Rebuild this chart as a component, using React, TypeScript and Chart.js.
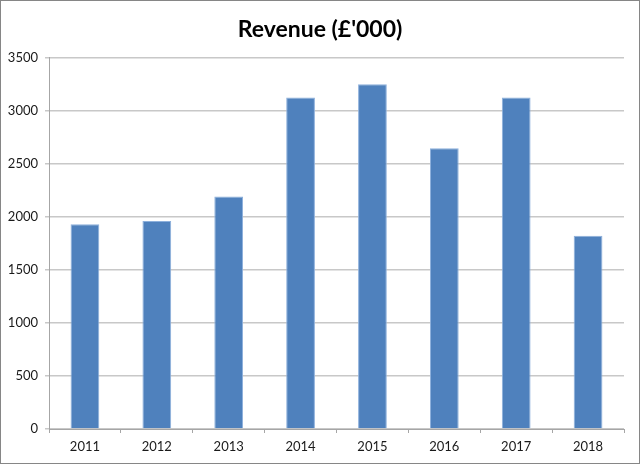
import React, { useEffect, useRef } from "react";
import { Chart, registerables } from "chart.js";

Chart.register(...registerables);

const categories = ["2011", "2012", "2013", "2014", "2015", "2016", "2017", "2018"];
const revenue = [1930, 1960, 2190, 3125, 3250, 2645, 3125, 1820];
const titleText = "Revenue (£'000)";
const yMin = 0;
const yMax = 3500;
const yStep = 500;

export default function App() {
  const canvasRef = useRef<HTMLCanvasElement | null>(null);

  useEffect(() => {
    document.body.style.margin = "0";
    const canvas = canvasRef.current;
    if (!canvas) return;
    const chart = new Chart(canvas, {
      type: "bar",
      data: {
        labels: categories,
        datasets: [
          {
            data: revenue,
            backgroundColor: "#4F81BD",
            borderColor: "#8DB0DC",
            borderWidth: 1,
            borderSkipped: "bottom",
            barPercentage: 0.4,
            categoryPercentage: 1,
          },
        ],
      },
      options: {
        animation: false,
        responsive: false,
        maintainAspectRatio: false,
        devicePixelRatio: 1,
        layout: { padding: { left: 0, right: 0, top: 0, bottom: 0 } },
        plugins: {
          legend: { display: false },
          tooltip: { enabled: false },
          title: {
            display: true,
            text: titleText,
            color: "#000000",
            font: { family: "Lato", size: 23, weight: "bold" },
            padding: { top: 16, bottom: 14 },
          },
        },
        scales: {
          x: {
            afterFit: (scale: any) => {
              scale.height = 35;
            },
            grid: {
              display: true,
              drawOnChartArea: false,
              drawTicks: true,
              tickLength: 4,
              color: "#a6a6a6",
              offset: true,
            },
            border: { display: true, color: "#a6a6a6", width: 1 },
            ticks: {
              color: "#1a1a1a",
              font: { family: "Lato", size: 13 },
              padding: 6,
            },
          },
          y: {
            min: yMin,
            max: yMax,
            afterFit: (scale: any) => {
              scale.width = 49;
            },
            ticks: {
              stepSize: yStep,
              color: "#1a1a1a",
              font: { family: "Lato", size: 13 },
              padding: 7,
              callback: (value: any) => String(value),
            },
            grid: {
              color: "#c8c8c8",
              lineWidth: 1.5,
              tickLength: 4,
              drawTicks: true,
            },
            border: { display: true, color: "#a6a6a6", width: 1 },
          },
          yRightSpace: {
            position: "right",
            min: yMin,
            max: yMax,
            afterFit: (scale: any) => {
              scale.width = 16;
            },
            ticks: { display: false },
            grid: { display: false, drawTicks: false },
            border: { display: false },
          },
        },
      },
    });
    return () => {
      chart.destroy();
    };
  }, []);

  return (
    <div style={{ position: "absolute", left: 0, top: 0, width: 640, height: 464, background: "#ffffff" }}>
      <canvas ref={canvasRef} width={640} height={464} style={{ width: 640, height: 464, display: "block" }} />
      <div
        style={{
          position: "absolute",
          left: 0,
          top: 0,
          width: 640,
          height: 464,
          boxSizing: "border-box",
          border: "1px solid #868686",
          pointerEvents: "none",
        }}
      />
    </div>
  );
}
